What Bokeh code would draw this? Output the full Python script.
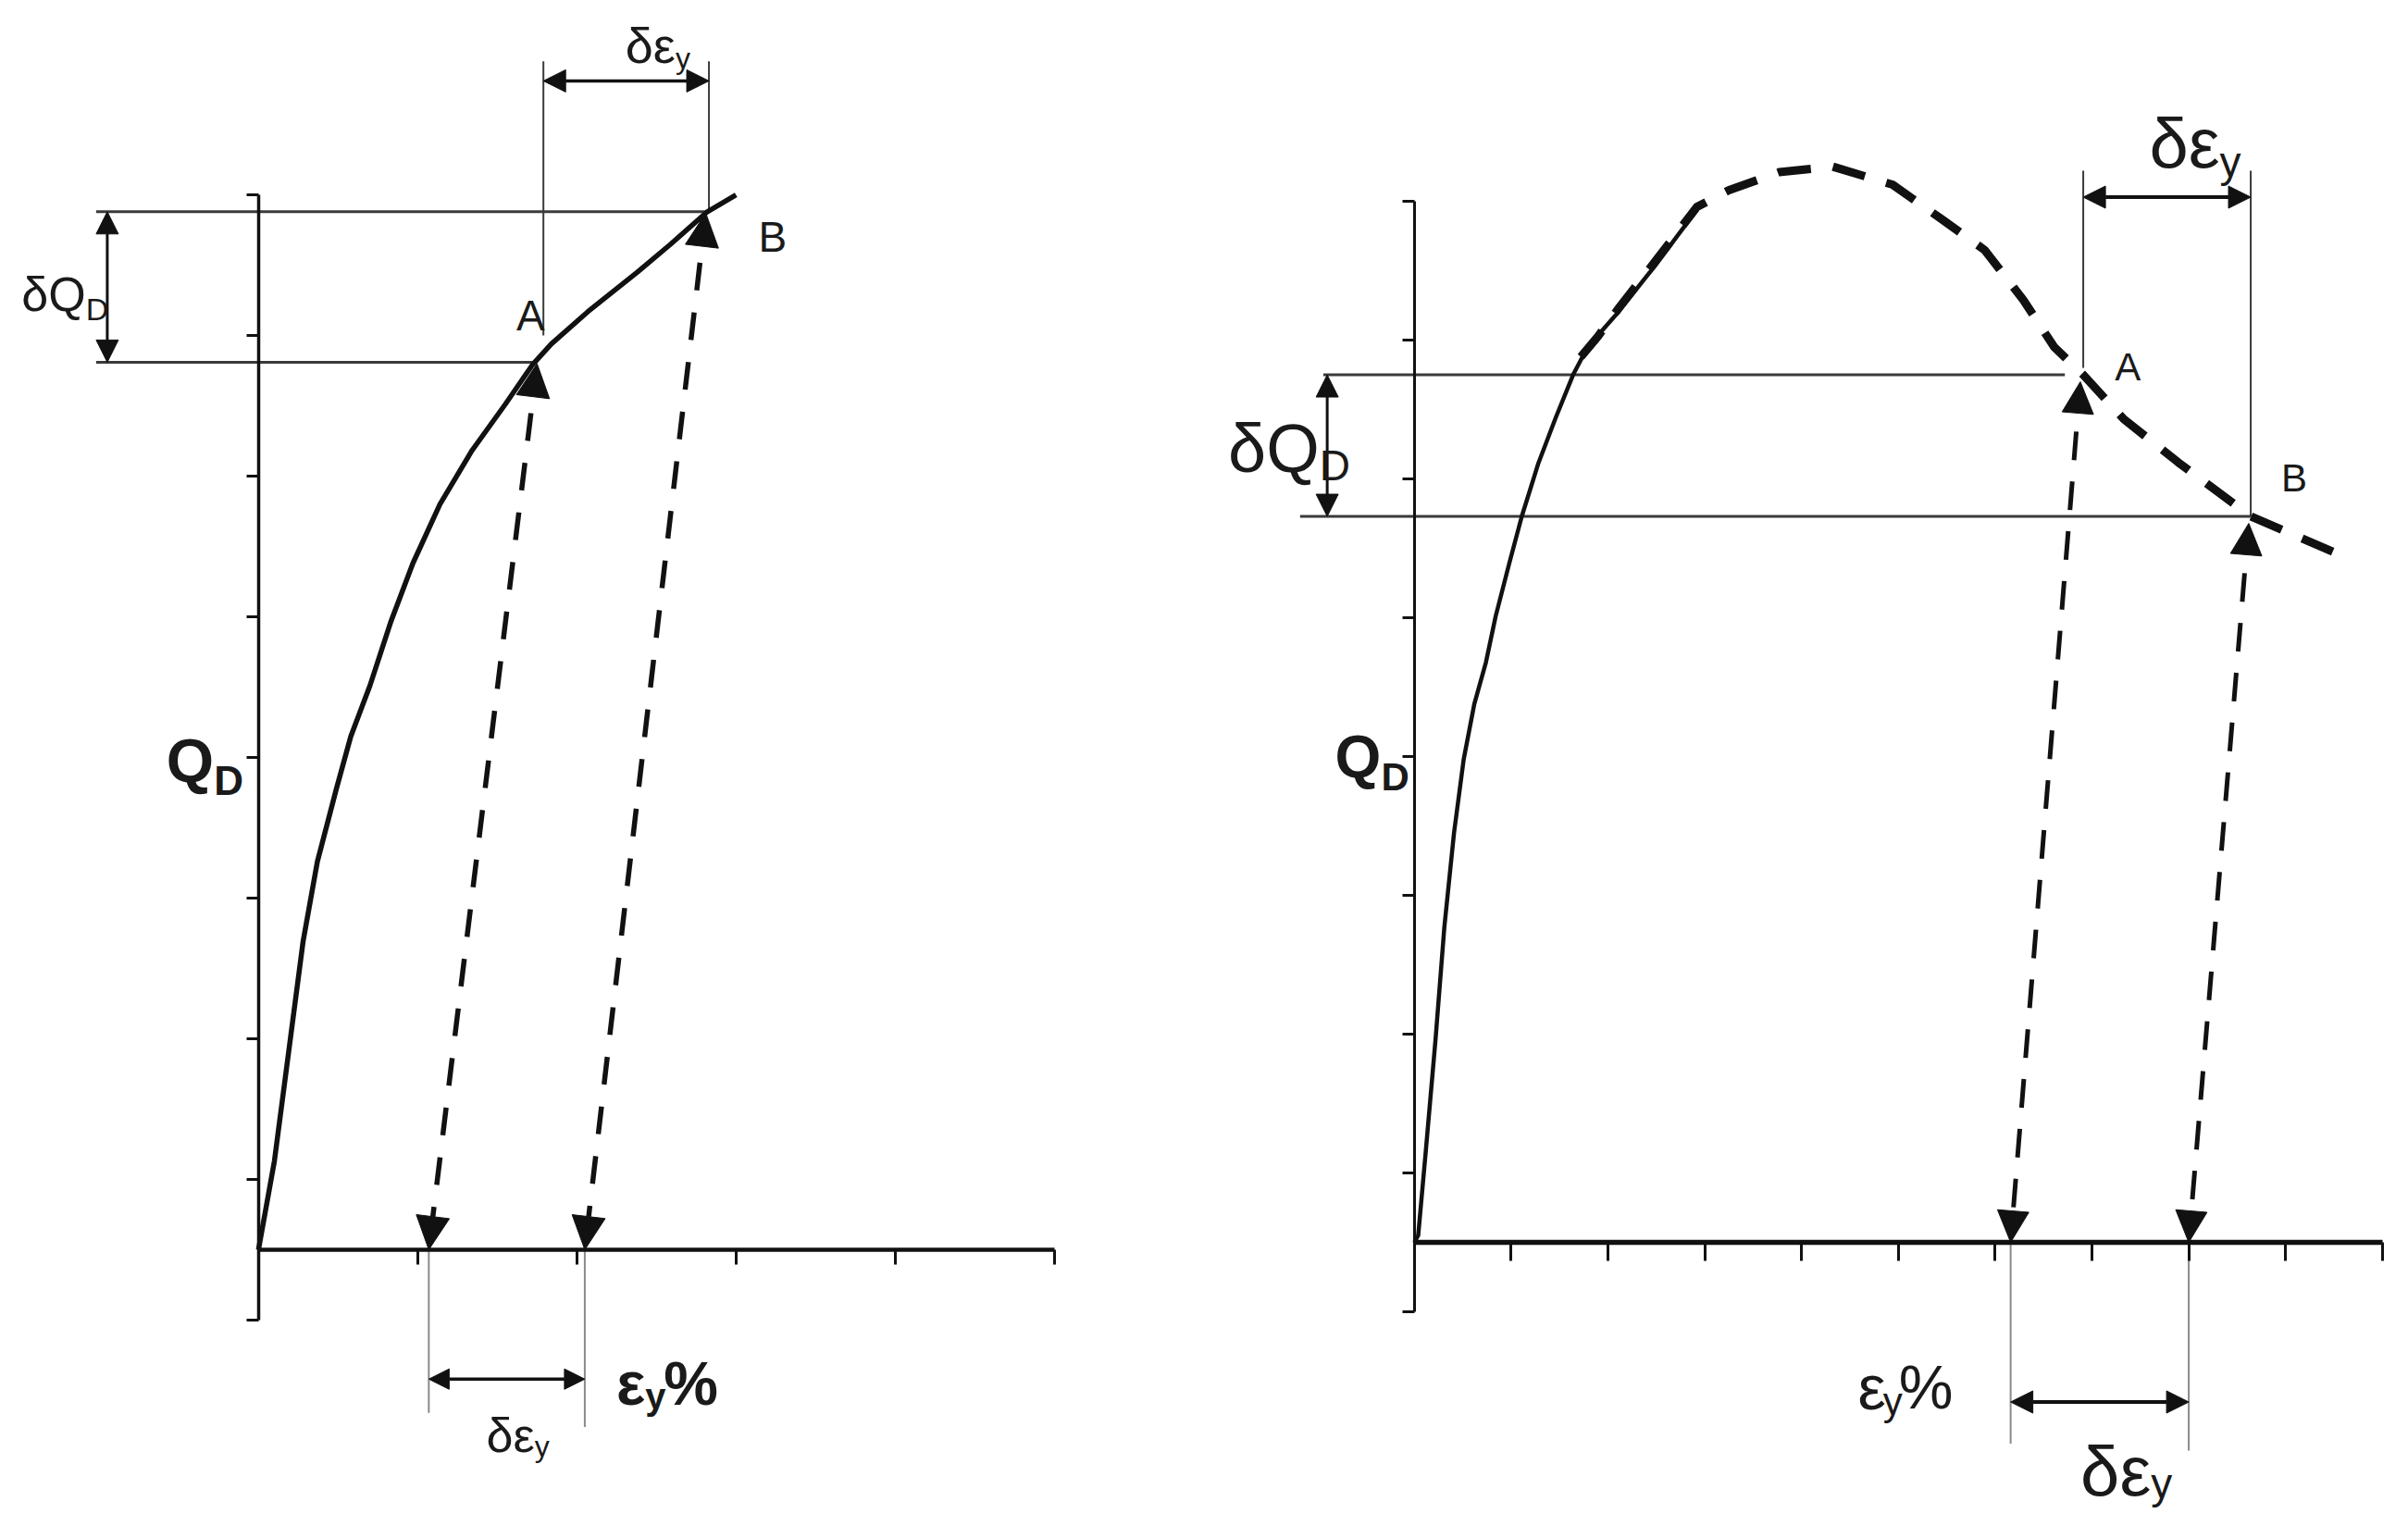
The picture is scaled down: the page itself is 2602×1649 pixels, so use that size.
from bokeh.plotting import figure
from bokeh.layouts import row
from bokeh.models import (LinearAxis, FixedTicker, Range1d, Arrow, NormalHead,
                          ColumnDataSource, Label)
from bokeh.embed import file_html
from bokeh.resources import INLINE

# ---------------- data (diagram units: x = strain ticks, y = load ticks) ----------------
# Left diagram: hardening curve
left_x_ticks = [0, 1, 2, 3, 4, 5]
left_y_ticks = [-0.5, 0.5, 1.5, 2.5, 3.5, 4.5, 5.5, 6.5, 7.5]
left_curve_x = [0.00, 0.10, 0.19, 0.28, 0.37, 0.49, 0.58, 0.70, 0.83, 0.97, 1.14, 1.34,
                1.55, 1.72, 1.84, 2.07, 2.38, 2.59, 2.82, 3.00]
left_curve_y = [0.00, 0.63, 1.41, 2.19, 2.76, 3.28, 3.65, 4.01, 4.46, 4.88, 5.30, 5.68,
                6.01, 6.29, 6.44, 6.67, 6.95, 7.15, 7.38, 7.50]
left_A = (1.72, 6.31)
left_B = (2.82, 7.38)
left_eps = [1.07, 2.05]          # strains where the dashed projections land

# Right diagram: curve with a peak and a softening branch
right_x_ticks = [0, 1, 2, 3, 4, 5, 6, 7, 8, 9, 10]
right_y_ticks = [-0.5, 0.5, 1.5, 2.5, 3.5, 4.5, 5.5, 6.5, 7.5]
right_solid_x = [0.00, 0.04, 0.12, 0.22, 0.31, 0.41, 0.51, 0.62, 0.74, 0.84, 0.98, 1.11,
                 1.28, 1.46, 1.64, 1.79, 2.08, 2.48, 2.92]
right_solid_y = [0.00, 0.05, 0.67, 1.47, 2.27, 2.95, 3.48, 3.88, 4.18, 4.51, 4.89, 5.23,
                 5.61, 5.94, 6.25, 6.45, 6.68, 7.03, 7.44]
right_dash_x = [1.72, 1.90, 2.10, 2.48, 2.92, 3.25, 3.77, 4.32, 4.94, 5.45, 5.89, 6.29,
                6.61, 6.91, 7.33, 7.89, 8.64, 9.64]
right_dash_y = [6.38, 6.53, 6.72, 7.06, 7.46, 7.58, 7.71, 7.75, 7.62, 7.37, 7.15, 6.79,
                6.45, 6.25, 5.93, 5.62, 5.23, 4.93]
right_A = (6.91, 6.25)
right_B = (8.64, 5.23)
right_eps = [6.16, 8.00]

# ---------------- helpers ----------------
H = 1648
INK = "#111111"
GUIDE = "#3a3a3a"
FONT = "Liberation Sans"


def make_fig(w, xr, yr):
    p = figure(width=w, height=H, x_range=Range1d(*xr), y_range=Range1d(*yr),
               x_axis_type=None, y_axis_type=None, toolbar_location=None,
               output_backend="svg", min_border=0, title=None)
    p.outline_line_color = None
    p.background_fill_color = "white"
    p.border_fill_color = "white"
    return p


def add_axes(p, xticks, yticks, xw, yw, xlen, ylen):
    xa = LinearAxis(fixed_location=0, ticker=FixedTicker(ticks=xticks),
                    bounds=(xticks[0], xticks[-1]),
                    major_label_overrides={t: "" for t in xticks},
                    major_label_text_font_size="0px",
                    major_tick_out=xlen, major_tick_in=0,
                    minor_tick_out=0, minor_tick_in=0,
                    axis_line_width=xw, axis_line_color=INK,
                    major_tick_line_width=3, major_tick_line_color=INK)
    p.add_layout(xa, "below")
    ya = LinearAxis(fixed_location=0, ticker=FixedTicker(ticks=yticks),
                    bounds=(yticks[0], yticks[-1]),
                    major_label_overrides={t: "" for t in yticks},
                    major_label_text_font_size="0px",
                    major_tick_out=ylen, major_tick_in=0,
                    minor_tick_out=0, minor_tick_in=0,
                    axis_line_width=yw, axis_line_color=INK,
                    major_tick_line_width=3, major_tick_line_color=INK)
    p.add_layout(ya, "left")


def add_arrows(p, x0, y0, x1, y1, width, size, dash="solid", color=INK, both=True):
    src = ColumnDataSource(dict(x0=x0, y0=y0, x1=x1, y1=y1))
    head = lambda: NormalHead(size=size, fill_color=color, line_color=color, line_width=1)
    p.add_layout(Arrow(source=src, x_start="x0", y_start="y0", x_end="x1", y_end="y1",
                       line_width=width, line_color=color, line_dash=dash,
                       end=head(), start=head() if both else None))


def lab(p, x, y, text, size, align="left", bold=False, dx=0, dy=0, color="#1a1a1a"):
    p.add_layout(Label(x=x, y=y, text=text, text_font=FONT,
                       text_font_size=f"{size}px",
                       text_font_style="bold" if bold else "normal",
                       text_color=color, text_align=align,
                       text_baseline="alphabetic", x_offset=dx, y_offset=dy))


def sub_label(p, x, y, main, sub, size, sub_size, sub_dy, bold=False, tail=None, tail_dx=0,
              tail_size=None, sub_dx=0):
    lab(p, x, y, main, size, align="right", bold=bold)
    lab(p, x, y, sub, sub_size, align="left", bold=bold, dy=sub_dy, dx=sub_dx)
    if tail:
        lab(p, x, y, tail, tail_size or size, align="left", bold=bold, dx=tail_dx)


# ================= LEFT DIAGRAM =================
pl = make_fig(1301, (-1.621, 5.943), (-1.961, 8.882))
add_axes(pl, left_x_ticks, left_y_ticks, xw=4.5, yw=3.5, xlen=16, ylen=13)

Ax, Ay = left_A
Bx, By = left_B
# guide lines
pl.segment(x0=[-1.02, -1.02], y0=[Ay, By], x1=[Ax, Bx], y1=[Ay, By],
           line_width=3, line_color=GUIDE)
pl.segment(x0=[Ax + 0.07, Bx + 0.01], y0=[6.50, By], x1=[Ax + 0.07, Bx + 0.01], y1=[8.45, 8.45],
           line_width=2, line_color=GUIDE)
pl.segment(x0=left_eps, y0=[0, 0], x1=left_eps, y1=[-1.16, -1.26],
           line_width=2, line_color="#8a8a8a")
# curve
pl.line(left_curve_x, left_curve_y, line_width=5.5, line_color=INK, line_join="round")
# dashed projection arrows
add_arrows(pl, [Ax + 0.03, Bx - 0.01], [Ay - 0.01, By - 0.01], left_eps, [0, 0],
           width=5.5, size=36, dash="30 24")
# dimension arrows
add_arrows(pl, [-0.95], [Ay], [-0.95], [By], width=3, size=24)
add_arrows(pl, [Ax + 0.07], [8.31], [Bx + 0.01], [8.31], width=3.5, size=24)
add_arrows(pl, [left_eps[0]], [-0.92], [left_eps[1]], [-0.92], width=3.5, size=22)

# texts
sub_label(pl, 2.62, 8.56, "δε", "y", 54, 32, -14)
sub_label(pl, -1.085, 6.79, "δQ", "D", 52, 34, -16)
lab(pl, 1.71, 6.64, "A", 46, align="center")
lab(pl, 3.23, 7.20, "B", 46, align="center")
sub_label(pl, -0.28, 3.48, "Q", "D", 66, 44, -22, bold=True)
sub_label(pl, 2.43, -0.95, "ε", "y", 66, 40, -14, bold=True, tail="%", tail_dx=20)
sub_label(pl, 1.735, -1.32, "δε", "y", 52, 32, -12)

# ================= RIGHT DIAGRAM =================
pr = make_fig(1300, (-2.168, 10.26), (-2.04, 8.947))
add_axes(pr, right_x_ticks, right_y_ticks, xw=5.5, yw=3, xlen=20, ylen=13)

Ax, Ay = right_A
Bx, By = right_B
pr.segment(x0=[-0.94, -1.18], y0=[Ay, By], x1=[Ax - 0.19, Bx], y1=[Ay, By],
           line_width=3, line_color=GUIDE)
pr.segment(x0=[Ax, Bx], y0=[Ay + 0.05, By], x1=[Ax, Bx], y1=[7.72, 7.72],
           line_width=2, line_color=GUIDE)
pr.segment(x0=right_eps, y0=[0, 0], x1=right_eps, y1=[-1.45, -1.50],
           line_width=2, line_color="#8a8a8a")
# curves
pr.line(right_solid_x, right_solid_y, line_width=4.5, line_color=INK, line_join="round")
pr.line(right_dash_x, right_dash_y, line_width=9, line_color=INK, line_dash="36 24",
        line_join="round")
# dashed projection arrows
add_arrows(pr, [Ax - 0.03, Bx - 0.02], [Ay - 0.05, By - 0.05], right_eps, [0, 0],
           width=5, size=34, dash="31 23")
# dimension arrows
add_arrows(pr, [-0.90], [Ay], [-0.90], [By], width=3, size=24)
add_arrows(pr, [Ax], [7.53], [Bx], [7.53], width=4, size=24)
add_arrows(pr, [right_eps[0]], [-1.15], [right_eps[1]], [-1.15], width=4, size=24)

sub_label(pr, 8.32, 7.92, "δε", "y", 76, 46, -20)
sub_label(pr, -0.98, 5.72, "δQ", "D", 74, 46, -18)
lab(pr, 7.37, 6.31, "A", 42, align="center")
lab(pr, 9.09, 5.51, "B", 42, align="center")
sub_label(pr, -0.343, 3.50, "Q", "D", 64, 42, -22, bold=True)
sub_label(pr, 4.87, -1.04, "ε", "y", 68, 42, -16, tail="%", tail_dx=14, tail_size=66,
          sub_dx=-3)
sub_label(pr, 7.61, -1.645, "δε", "y", 76, 46, -14)

layout = row(pl, pr)
open("out.html", "w").write(file_html(layout, INLINE))
